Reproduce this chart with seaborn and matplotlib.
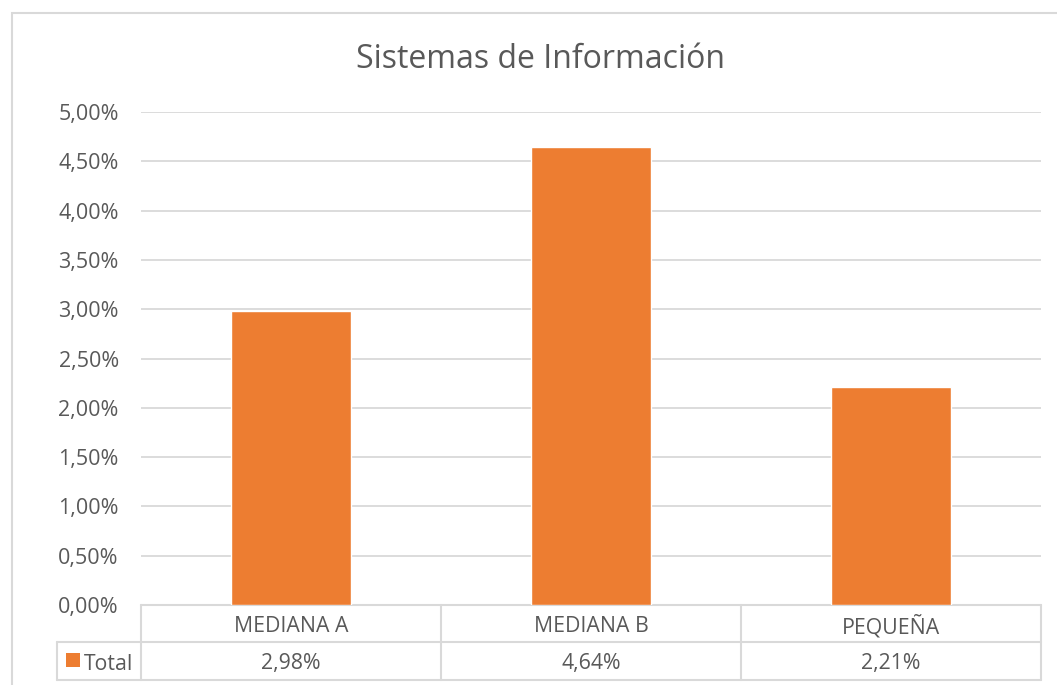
import matplotlib
matplotlib.use("Agg")
import pandas as pd
import seaborn as sns
import matplotlib.pyplot as plt
from matplotlib.ticker import FuncFormatter, MultipleLocator
from matplotlib.patches import Rectangle

# data
categories = ["MEDIANA A", "MEDIANA B", "PEQUEÑA"]
totals = [0.0298, 0.0464, 0.0221]
series_name = "Total"
title = "Sistemas de Información"

BAR = "#ED7D31"
GRID = "#D9D9D9"
TXT = "#595959"

sns.set_style("white")
plt.rcParams["font.family"] = ["Open Sans", "DejaVu Sans"]

df = pd.DataFrame({"Categoria": categories, series_name: totals})

fig = plt.figure(figsize=(10.57, 6.85), dpi=100)
ax = fig.add_axes([141 / 1057, 1 - 605 / 685, 900 / 1057, 493 / 685])

sns.barplot(data=df, x="Categoria", y=series_name, color=BAR, width=0.4,
            saturation=1, ax=ax, zorder=3)

ax.set_ylim(0, 0.05)
ax.set_xlim(-0.5, 2.5)
ax.yaxis.set_major_locator(MultipleLocator(0.005))
ax.yaxis.set_major_formatter(FuncFormatter(lambda v, p: f"{v*100:.2f}%".replace(".", ",")))
ax.grid(axis="y", color=GRID, linewidth=1.3, zorder=0)
ax.set_axisbelow(True)
for s in ax.spines.values():
    s.set_visible(False)
ax.set_xticks([])
ax.set_xlabel("")
ax.set_ylabel("")
ax.tick_params(axis="y", length=0, pad=16, labelsize=15.5, labelcolor=TXT)

fig.text(540 / 1057, 1 - 60 / 685, title, ha="center", va="center",
         fontsize=23, color=TXT)

# outer chart border
fig.patches.append(Rectangle((12 / 1057, -0.1), 1.2, 1 - 13 / 685 + 0.1,
                             transform=fig.transFigure, fill=False,
                             edgecolor=GRID, linewidth=1.5))

# data table under the plot
h = 493
r1 = -37 / h
r2 = -75 / h
dy = -3 / h
xl = (57 - 141) / 900
kw = dict(transform=ax.transAxes, clip_on=False, color=GRID, linewidth=1.5)
ax.plot([0, 1], [0, 0], **kw)
ax.plot([xl, 1], [r1, r1], **kw)
ax.plot([xl, 1], [r2, r2], **kw)
ax.plot([xl, xl], [r1, r2], **kw)
n = len(categories)
for i in range(n + 1):
    ax.plot([i / n, i / n], [0, r2], **kw)
for i, (c, v) in enumerate(zip(categories, totals)):
    xc = (i + 0.5) / n
    ax.text(xc, r1 / 2 + dy, c, transform=ax.transAxes, ha="center", va="center",
            fontsize=15.3, color=TXT)
    ax.text(xc, (r1 + r2) / 2 + dy, f"{v*100:.2f}%".replace(".", ","),
            transform=ax.transAxes, ha="center", va="center",
            fontsize=15.3, color=TXT)
ax.add_patch(Rectangle((66 / 1057, 1 - 667 / 685), 14 / 1057, 14 / 685,
                       transform=fig.transFigure, facecolor=BAR,
                       edgecolor="none", clip_on=False))
ax.text((84 - 141) / 900, (r1 + r2) / 2 + dy, series_name, transform=ax.transAxes,
        ha="left", va="center", fontsize=15.3, color=TXT)

fig.savefig("out.png", dpi=100)
